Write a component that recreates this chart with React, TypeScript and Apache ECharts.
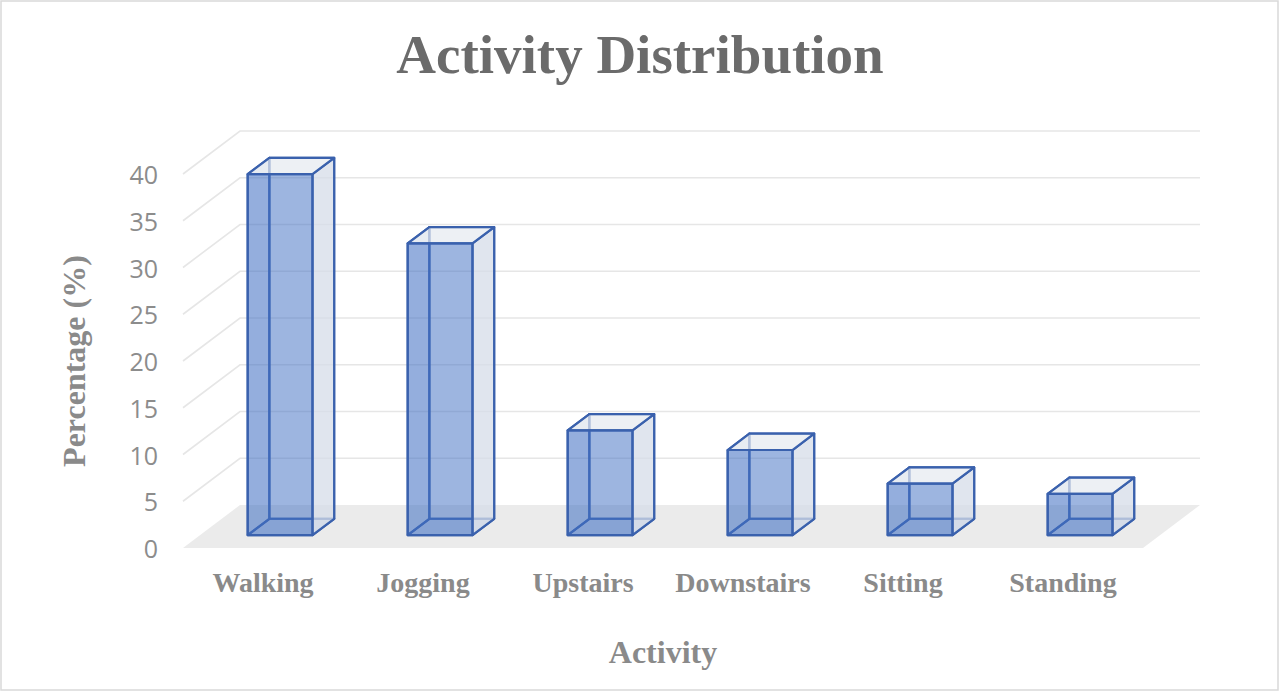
import React, { useEffect, useRef } from "react";
import * as echarts from "echarts";

const categories = ["Walking", "Jogging", "Upstairs", "Downstairs", "Sitting", "Standing"];
const percentages = [38.6, 31.2, 11.2, 9.1, 5.5, 4.4];
const yTicks = [0, 5, 10, 15, 20, 25, 30, 35, 40];

// 3D projection offsets (pixels) for full floor depth
const DX = 57;
const DY = -43;
const F0 = 0.3; // bar front depth fraction
const F1 = 0.68; // bar back depth fraction
const BAR_W = 0.405;

export default function App() {
  const ref = useRef<HTMLDivElement>(null);
  useEffect(() => {
    document.body.style.margin = "0";
    const chart = echarts.init(ref.current!, undefined, { renderer: "svg" });
    const serif = "'Liberation Serif', 'Times New Roman', serif";
    const option: any = {
      animation: false,
      backgroundColor: "#ffffff",
      title: {
        text: "Activity Distribution",
        left: "center",
        top: 22,
        textStyle: {
          fontFamily: serif,
          fontWeight: "bold",
          fontSize: 55,
          color: "#6b6b6b",
        },
      },
      graphic: [
        {
          type: "rect",
          shape: { x: 1, y: 1, width: 1277, height: 689 },
          style: { fill: "none", stroke: "#d9d9d9", lineWidth: 1.5 },
          silent: true,
          z: -1,
        },
      ],
      grid: { left: 183, right: 137, top: 174, bottom: 145 },
      xAxis: {
        type: "category",
        data: categories,
        axisLine: { show: false },
        axisTick: { show: false },
        splitLine: { show: false },
        axisLabel: {
          interval: 0,
          margin: 20,
          fontFamily: serif,
          fontWeight: "bold",
          fontSize: 28,
          color: "#8a8a8a",
        },
        name: "Activity",
        nameLocation: "middle",
        nameGap: 88,
        nameTextStyle: {
          fontFamily: serif,
          fontWeight: "bold",
          fontSize: 32,
          color: "#8a8a8a",
        },
      },
      yAxis: {
        type: "value",
        min: 0,
        max: 40,
        interval: 5,
        axisLine: { show: false },
        axisTick: { show: false },
        splitLine: { show: false },
        axisLabel: {
          margin: 25,
          fontFamily: "'Open Sans', sans-serif",
          fontSize: 25,
          color: "#8c8c8c",
        },
        name: "Percentage (%)",
        nameLocation: "middle",
        nameGap: 93,
        nameRotate: 90,
        nameTextStyle: {
          fontFamily: serif,
          fontWeight: "bold",
          fontSize: 32,
          color: "#8a8a8a",
        },
      },
      series: [
        {
          type: "custom",
          silent: true,
          z: 1,
          data: yTicks.map((t) => [0, t]),
          renderItem: (params: any, api: any) => {
            const v = api.value(1);
            const cs = params.coordSys;
            const y = api.coord([0, v])[1];
            const x0 = cs.x;
            const x1 = cs.x + cs.width;
            if (v === 0) {
              return {
                type: "polygon",
                shape: {
                  points: [
                    [x0, y],
                    [x1, y],
                    [x1 + DX, y + DY],
                    [x0 + DX, y + DY],
                  ],
                },
                style: { fill: "#ebebeb", stroke: "none" },
              };
            }
            return {
              type: "polyline",
              shape: {
                points: [
                  [x0, y],
                  [x0 + DX, y + DY],
                  [x1 + DX, y + DY],
                ],
              },
              style: { fill: "none", stroke: "#e6e6e6", lineWidth: 1.6 },
            };
          },
        },
        {
          type: "custom",
          silent: true,
          z: 2,
          data: percentages.map((p, i) => [i, p]),
          renderItem: (params: any, api: any) => {
            const i = api.value(0);
            const v = api.value(1);
            const base = api.coord([i, 0]);
            const top = api.coord([i, v]);
            const bw = api.size([1, 0])[0] * BAR_W;
            const xl = base[0] - bw / 2;
            const xr = base[0] + bw / 2;
            const yb = base[1];
            const yt = top[1];
            const fx = DX * F0, fy = DY * F0, bx = DX * F1, by = DY * F1;
            const FLB = [xl + fx, yb + fy], FRB = [xr + fx, yb + fy];
            const FRT = [xr + fx, yt + fy], FLT = [xl + fx, yt + fy];
            const BLB = [xl + bx, yb + by], BRB = [xr + bx, yb + by];
            const BRT = [xr + bx, yt + by], BLT = [xl + bx, yt + by];
            const stroke = "#3a61ad";
            const lw = 2.2;
            const face = (pts: number[][], fill: string) => ({
              type: "polygon",
              shape: { points: pts },
              style: { fill, stroke, lineWidth: lw, lineJoin: "round" },
            });
            return {
              type: "group",
              children: [
                face([BLB, BRB, BRT, BLT], "rgba(255,255,255,0)"),
                face([FLB, BLB, BLT, FLT], "rgba(68,114,196,0.1)"),
                face([FLB, FRB, BRB, BLB], "rgba(68,114,196,0.15)"),
                face([FRB, BRB, BRT, FRT], "rgba(214,220,232,0.75)"),
                face([FLT, FRT, BRT, BLT], "rgba(230,233,240,0.7)"),
                face([FLB, FRB, FRT, FLT], "rgba(68,114,196,0.52)"),
              ],
            };
          },
        },
      ],
    };
    chart.setOption(option);
    return () => chart.dispose();
  }, []);
  return <div ref={ref} style={{ width: 1280, height: 693 }} />;
}
